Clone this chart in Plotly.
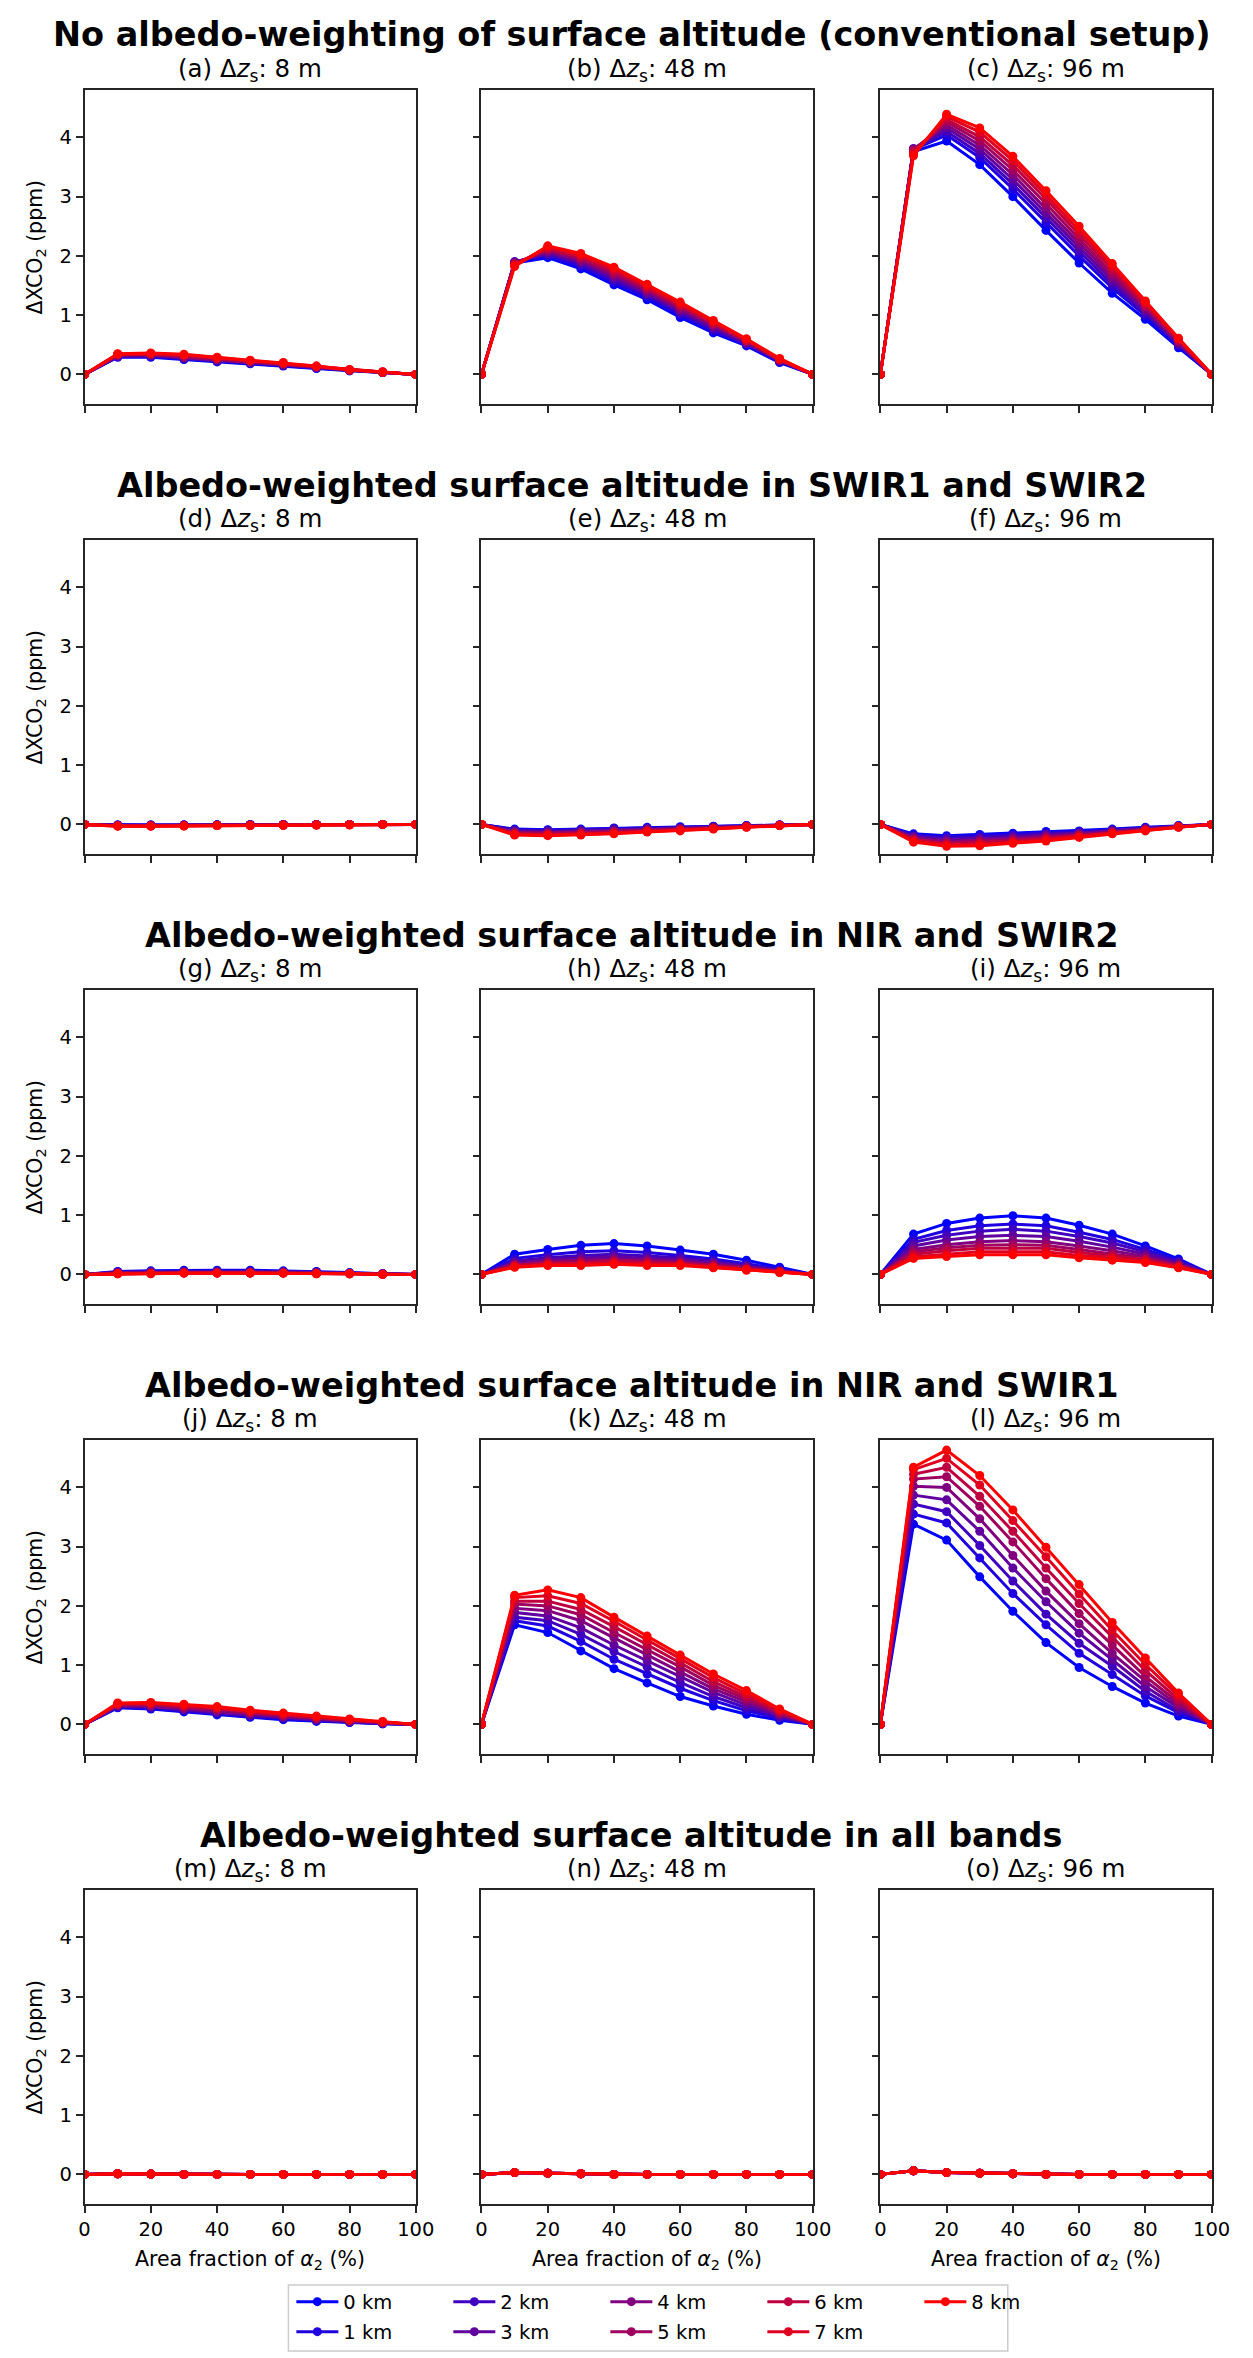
import plotly.graph_objects as go

# figure size in px, same as the reference
W, H = 1253, 2358

AREA_FRACTION = [0, 10, 20, 30, 40, 50, 60, 70, 80, 90, 100]
SURFACE_KM = [0, 1, 2, 3, 4, 5, 6, 7, 8]
SERIES_NAMES = ["0 km", "1 km", "2 km", "3 km", "4 km", "5 km", "6 km", "7 km", "8 km"]
DZ_S = [8, 48, 96]
PANEL_LETTERS = ["a", "b", "c", "d", "e", "f", "g", "h", "i", "j", "k", "l", "m", "n", "o"]
ROW_TITLES = [
    "No albedo-weighting of surface altitude (conventional setup)",
    "Albedo-weighted surface altitude in SWIR1 and SWIR2",
    "Albedo-weighted surface altitude in NIR and SWIR2",
    "Albedo-weighted surface altitude in NIR and SWIR1",
    "Albedo-weighted surface altitude in all bands",
]
X_TICKS = [0, 20, 40, 60, 80, 100]
Y_TICKS = [0, 1, 2, 3, 4]

# dXCO2 (ppm), one row per area fraction, one column per surface altitude (0..8 km)
ZERO = [0, 0, 0, 0, 0, 0, 0, 0, 0]

dxco2_a = [
    ZERO,
    [0.29, 0.30, 0.30, 0.31, 0.32, 0.33, 0.34, 0.34, 0.35],
    [0.29, 0.30, 0.31, 0.32, 0.33, 0.34, 0.35, 0.35, 0.36],
    [0.25, 0.26, 0.27, 0.28, 0.29, 0.30, 0.32, 0.33, 0.34],
    [0.21, 0.22, 0.23, 0.24, 0.25, 0.26, 0.27, 0.28, 0.29],
    [0.18, 0.19, 0.19, 0.20, 0.21, 0.22, 0.23, 0.23, 0.24],
    [0.14, 0.15, 0.15, 0.16, 0.17, 0.18, 0.18, 0.19, 0.20],
    [0.10, 0.11, 0.11, 0.12, 0.12, 0.13, 0.13, 0.14, 0.14],
    [0.06, 0.06, 0.07, 0.07, 0.07, 0.07, 0.08, 0.08, 0.08],
    [0.03, 0.03, 0.03, 0.03, 0.03, 0.04, 0.04, 0.04, 0.04],
    ZERO,
]
dxco2_b = [
    ZERO,
    [1.88, 1.90, 1.90, 1.89, 1.88, 1.87, 1.86, 1.84, 1.82],
    [1.97, 2.00, 2.03, 2.05, 2.08, 2.10, 2.12, 2.15, 2.17],
    [1.78, 1.82, 1.86, 1.89, 1.92, 1.95, 1.98, 2.01, 2.04],
    [1.51, 1.55, 1.59, 1.63, 1.67, 1.70, 1.74, 1.78, 1.81],
    [1.26, 1.30, 1.34, 1.37, 1.40, 1.43, 1.46, 1.49, 1.52],
    [0.96, 1.00, 1.04, 1.07, 1.10, 1.13, 1.16, 1.19, 1.22],
    [0.70, 0.73, 0.76, 0.79, 0.82, 0.84, 0.86, 0.89, 0.91],
    [0.48, 0.50, 0.52, 0.53, 0.55, 0.56, 0.57, 0.59, 0.60],
    [0.20, 0.21, 0.22, 0.23, 0.24, 0.24, 0.25, 0.26, 0.27],
    ZERO,
]
dxco2_c = [
    ZERO,
    [3.76, 3.80, 3.81, 3.81, 3.80, 3.78, 3.76, 3.72, 3.69],
    [3.94, 4.04, 4.10, 4.16, 4.21, 4.26, 4.30, 4.35, 4.39],
    [3.54, 3.66, 3.73, 3.80, 3.87, 3.94, 4.01, 4.09, 4.16],
    [3.00, 3.13, 3.21, 3.29, 3.37, 3.45, 3.53, 3.61, 3.68],
    [2.43, 2.56, 2.64, 2.72, 2.80, 2.88, 2.96, 3.03, 3.10],
    [1.88, 2.00, 2.08, 2.15, 2.22, 2.29, 2.36, 2.43, 2.50],
    [1.37, 1.46, 1.52, 1.58, 1.64, 1.70, 1.76, 1.82, 1.87],
    [0.93, 0.99, 1.03, 1.07, 1.11, 1.14, 1.17, 1.21, 1.24],
    [0.45, 0.48, 0.50, 0.52, 0.54, 0.56, 0.58, 0.60, 0.61],
    ZERO,
]
dxco2_d = [
    ZERO,
    [-0.010, -0.010, -0.015, -0.020, -0.020, -0.020, -0.025, -0.030, -0.030],
    [-0.010, -0.010, -0.015, -0.020, -0.020, -0.020, -0.025, -0.030, -0.030],
    [-0.010, -0.010, -0.010, -0.015, -0.020, -0.020, -0.020, -0.025, -0.030],
    [-0.005, -0.010, -0.010, -0.010, -0.015, -0.015, -0.020, -0.020, -0.020],
    [0.000, -0.005, -0.010, -0.010, -0.010, -0.015, -0.015, -0.020, -0.020],
    [0.000, 0.000, -0.005, -0.005, -0.010, -0.010, -0.010, -0.015, -0.015],
    [0.000, 0.000, 0.000, -0.005, -0.005, -0.005, -0.010, -0.010, -0.010],
    [0.000, 0.000, 0.000, 0.000, 0.000, -0.005, -0.005, -0.005, -0.010],
    [0.000, 0.000, 0.000, 0.000, 0.000, 0.000, 0.000, 0.000, -0.005],
    ZERO,
]
dxco2_e = [
    ZERO,
    [-0.08, -0.09, -0.10, -0.12, -0.13, -0.14, -0.16, -0.17, -0.18],
    [-0.09, -0.10, -0.11, -0.13, -0.14, -0.15, -0.17, -0.18, -0.19],
    [-0.08, -0.09, -0.10, -0.12, -0.13, -0.14, -0.16, -0.17, -0.18],
    [-0.06, -0.07, -0.08, -0.10, -0.11, -0.12, -0.14, -0.15, -0.16],
    [-0.05, -0.06, -0.07, -0.08, -0.09, -0.10, -0.11, -0.12, -0.13],
    [-0.04, -0.05, -0.06, -0.07, -0.075, -0.08, -0.09, -0.10, -0.11],
    [-0.03, -0.035, -0.04, -0.05, -0.055, -0.06, -0.07, -0.075, -0.08],
    [-0.02, -0.02, -0.025, -0.03, -0.035, -0.035, -0.04, -0.045, -0.05],
    [-0.01, -0.01, -0.01, -0.015, -0.015, -0.015, -0.02, -0.02, -0.02],
    ZERO,
]
dxco2_f = [
    ZERO,
    [-0.16, -0.18, -0.20, -0.21, -0.23, -0.25, -0.26, -0.28, -0.30],
    [-0.19, -0.21, -0.24, -0.26, -0.29, -0.31, -0.33, -0.35, -0.37],
    [-0.17, -0.19, -0.22, -0.24, -0.27, -0.29, -0.31, -0.34, -0.36],
    [-0.15, -0.17, -0.19, -0.22, -0.24, -0.26, -0.28, -0.30, -0.32],
    [-0.12, -0.14, -0.16, -0.18, -0.20, -0.22, -0.24, -0.26, -0.28],
    [-0.11, -0.12, -0.14, -0.15, -0.17, -0.18, -0.19, -0.21, -0.22],
    [-0.08, -0.09, -0.10, -0.11, -0.12, -0.13, -0.14, -0.15, -0.16],
    [-0.05, -0.06, -0.07, -0.075, -0.08, -0.09, -0.095, -0.10, -0.11],
    [-0.02, -0.025, -0.03, -0.03, -0.035, -0.04, -0.04, -0.045, -0.05],
    ZERO,
]
dxco2_g = [
    ZERO,
    [0.05, 0.04, 0.035, 0.03, 0.025, 0.02, 0.015, 0.01, 0.01],
    [0.06, 0.05, 0.04, 0.035, 0.03, 0.025, 0.02, 0.015, 0.01],
    [0.07, 0.06, 0.05, 0.04, 0.035, 0.03, 0.025, 0.02, 0.02],
    [0.07, 0.06, 0.05, 0.04, 0.035, 0.03, 0.025, 0.02, 0.02],
    [0.07, 0.06, 0.05, 0.04, 0.035, 0.03, 0.025, 0.02, 0.02],
    [0.06, 0.05, 0.045, 0.04, 0.03, 0.025, 0.02, 0.02, 0.02],
    [0.05, 0.04, 0.035, 0.03, 0.025, 0.02, 0.015, 0.01, 0.01],
    [0.03, 0.025, 0.02, 0.02, 0.015, 0.01, 0.01, 0.01, 0.01],
    [0.01, 0.01, 0.01, 0.005, 0.005, 0.005, 0.0, 0.0, 0.0],
    ZERO,
]
dxco2_h = [
    ZERO,
    [0.34, 0.27, 0.23, 0.20, 0.18, 0.16, 0.15, 0.13, 0.12],
    [0.42, 0.33, 0.28, 0.25, 0.22, 0.20, 0.18, 0.17, 0.15],
    [0.49, 0.38, 0.32, 0.28, 0.24, 0.22, 0.19, 0.17, 0.15],
    [0.52, 0.40, 0.34, 0.30, 0.26, 0.24, 0.22, 0.19, 0.17],
    [0.48, 0.37, 0.31, 0.27, 0.24, 0.22, 0.19, 0.17, 0.15],
    [0.41, 0.32, 0.28, 0.25, 0.22, 0.20, 0.18, 0.17, 0.15],
    [0.34, 0.26, 0.22, 0.20, 0.17, 0.16, 0.14, 0.12, 0.11],
    [0.24, 0.18, 0.15, 0.13, 0.12, 0.10, 0.09, 0.08, 0.07],
    [0.12, 0.09, 0.07, 0.06, 0.05, 0.05, 0.04, 0.04, 0.03],
    ZERO,
]
dxco2_i = [
    ZERO,
    [0.68, 0.59, 0.54, 0.48, 0.42, 0.38, 0.34, 0.30, 0.27],
    [0.86, 0.74, 0.66, 0.58, 0.50, 0.45, 0.40, 0.34, 0.30],
    [0.95, 0.82, 0.73, 0.64, 0.55, 0.49, 0.44, 0.38, 0.33],
    [0.99, 0.85, 0.76, 0.66, 0.57, 0.50, 0.44, 0.38, 0.33],
    [0.95, 0.82, 0.73, 0.64, 0.55, 0.49, 0.44, 0.38, 0.33],
    [0.83, 0.71, 0.64, 0.56, 0.48, 0.42, 0.37, 0.32, 0.28],
    [0.68, 0.59, 0.53, 0.46, 0.40, 0.35, 0.31, 0.28, 0.24],
    [0.48, 0.42, 0.38, 0.34, 0.30, 0.27, 0.25, 0.22, 0.20],
    [0.26, 0.23, 0.21, 0.19, 0.16, 0.15, 0.14, 0.12, 0.11],
    ZERO,
]
dxco2_j = [
    ZERO,
    [0.28, 0.29, 0.30, 0.31, 0.32, 0.33, 0.34, 0.35, 0.36],
    [0.26, 0.27, 0.29, 0.30, 0.31, 0.33, 0.34, 0.36, 0.37],
    [0.21, 0.23, 0.24, 0.26, 0.27, 0.29, 0.31, 0.32, 0.34],
    [0.16, 0.18, 0.20, 0.21, 0.23, 0.25, 0.27, 0.28, 0.30],
    [0.12, 0.13, 0.15, 0.16, 0.18, 0.19, 0.21, 0.22, 0.24],
    [0.08, 0.09, 0.11, 0.12, 0.13, 0.15, 0.16, 0.18, 0.19],
    [0.05, 0.06, 0.07, 0.08, 0.09, 0.10, 0.12, 0.13, 0.14],
    [0.03, 0.04, 0.04, 0.05, 0.06, 0.07, 0.07, 0.08, 0.09],
    [0.01, 0.01, 0.02, 0.02, 0.03, 0.03, 0.04, 0.04, 0.05],
    ZERO,
]
dxco2_k = [
    ZERO,
    [1.68, 1.75, 1.81, 1.89, 1.96, 2.03, 2.08, 2.14, 2.18],
    [1.55, 1.66, 1.75, 1.83, 1.92, 2.00, 2.08, 2.17, 2.27],
    [1.24, 1.40, 1.52, 1.63, 1.75, 1.85, 1.94, 2.04, 2.14],
    [0.94, 1.10, 1.23, 1.34, 1.46, 1.55, 1.65, 1.74, 1.81],
    [0.70, 0.85, 0.97, 1.07, 1.17, 1.26, 1.35, 1.43, 1.49],
    [0.47, 0.61, 0.71, 0.80, 0.89, 0.97, 1.04, 1.11, 1.17],
    [0.31, 0.40, 0.47, 0.54, 0.60, 0.66, 0.72, 0.79, 0.85],
    [0.17, 0.23, 0.28, 0.33, 0.38, 0.42, 0.47, 0.52, 0.57],
    [0.07, 0.10, 0.12, 0.15, 0.17, 0.19, 0.21, 0.24, 0.26],
    ZERO,
]
dxco2_l = [
    ZERO,
    [3.38, 3.55, 3.72, 3.87, 4.02, 4.14, 4.22, 4.30, 4.34],
    [3.11, 3.40, 3.59, 3.79, 4.00, 4.18, 4.34, 4.49, 4.63],
    [2.49, 2.81, 3.02, 3.26, 3.47, 3.68, 3.85, 4.04, 4.20],
    [1.91, 2.21, 2.42, 2.64, 2.85, 3.08, 3.26, 3.44, 3.62],
    [1.38, 1.68, 1.86, 2.07, 2.25, 2.46, 2.64, 2.83, 2.99],
    [0.96, 1.20, 1.37, 1.54, 1.70, 1.87, 2.04, 2.20, 2.36],
    [0.64, 0.84, 0.98, 1.09, 1.20, 1.34, 1.47, 1.59, 1.72],
    [0.36, 0.48, 0.56, 0.64, 0.73, 0.81, 0.91, 1.01, 1.12],
    [0.14, 0.20, 0.23, 0.28, 0.32, 0.37, 0.42, 0.48, 0.53],
    ZERO,
]
dxco2_m = [
    ZERO,
    [0.01, 0.01, 0.01, 0.01, 0.01, 0.01, 0.01, 0.01, 0.01],
    [0.005, 0.005, 0.005, 0.005, 0.005, 0.005, 0.005, 0.005, 0.005],
    ZERO, ZERO, ZERO, ZERO, ZERO, ZERO, ZERO,
    ZERO,
]
dxco2_n = [
    ZERO,
    [0.03, 0.03, 0.03, 0.03, 0.03, 0.03, 0.03, 0.03, 0.03],
    [0.02, 0.02, 0.02, 0.02, 0.02, 0.02, 0.02, 0.02, 0.02],
    [0.01, 0.01, 0.01, 0.01, 0.01, 0.01, 0.01, 0.01, 0.01],
    ZERO, ZERO, ZERO, ZERO, ZERO, ZERO,
    ZERO,
]
dxco2_o = [
    ZERO,
    [0.06, 0.06, 0.06, 0.06, 0.06, 0.06, 0.06, 0.06, 0.06],
    [0.03, 0.03, 0.03, 0.03, 0.03, 0.03, 0.03, 0.03, 0.03],
    [0.02, 0.02, 0.02, 0.02, 0.02, 0.02, 0.02, 0.02, 0.02],
    [0.01, 0.01, 0.01, 0.01, 0.01, 0.01, 0.01, 0.01, 0.01],
    ZERO, ZERO, ZERO, ZERO, ZERO,
    ZERO,
]

PANELS = [
    [dxco2_a, dxco2_b, dxco2_c],
    [dxco2_d, dxco2_e, dxco2_f],
    [dxco2_g, dxco2_h, dxco2_i],
    [dxco2_j, dxco2_k, dxco2_l],
    [dxco2_m, dxco2_n, dxco2_o],
]

COL_X = [(72, 410), (477, 815), (884, 1222)]
ROW_TOP0, ROW_PITCH, ROW_H = 82, 450, 314
FONT = "DejaVu Sans"
AXIS_COLOR = "#262626"
TICK_SIZE = 19.5
LABEL_SIZE = 20.5


def px_x(p):
    return p / W


def px_y(p):
    return 1 - p / H


def km_color(k):
    f = k / 8
    return f"rgb({round(255 * f)},0,{round(255 * (1 - f))})"


fig = go.Figure()
annotations = []

for r in range(5):
    top = ROW_TOP0 + r * ROW_PITCH
    bottom = top + ROW_H
    annotations.append(dict(text=f"<b>{ROW_TITLES[r]}</b>", x=0.503, y=px_y(top - 55),
                            xref="paper", yref="paper", xanchor="center", yanchor="middle",
                            showarrow=False, font=dict(size=33.5, color="black")))
    for c in range(3):
        idx = r * 3 + c + 1
        sfx = "" if idx == 1 else str(idx)
        x0, x1 = COL_X[c]

        fig.layout[f"xaxis{sfx}"] = dict(
            domain=[px_x(x0), px_x(x1)], anchor=f"y{sfx}", range=[0, 100],
            tickvals=X_TICKS, showticklabels=(r == 4),
            showline=True, linecolor=AXIS_COLOR, linewidth=1.5, mirror=True,
            ticks="outside", ticklen=7, tickwidth=1.5, tickcolor=AXIS_COLOR,
            showgrid=False, zeroline=False, tickfont=dict(size=TICK_SIZE, color="black"))
        fig.layout[f"yaxis{sfx}"] = dict(
            domain=[px_y(bottom), px_y(top)], anchor=f"x{sfx}", range=[-0.5, 4.8],
            tickvals=Y_TICKS, showticklabels=(c == 0),
            showline=True, linecolor=AXIS_COLOR, linewidth=1.5, mirror=True,
            ticks="outside", ticklen=7, tickwidth=1.5, tickcolor=AXIS_COLOR,
            showgrid=False, zeroline=False, tickfont=dict(size=TICK_SIZE, color="black"))

        panel = PANELS[r][c]
        for k in SURFACE_KM:
            fig.add_trace(go.Scatter(
                x=AREA_FRACTION, y=[row[k] for row in panel],
                mode="lines+markers", name=SERIES_NAMES[k],
                line=dict(color=km_color(k), width=3),
                marker=dict(color=km_color(k), size=9),
                xaxis=f"x{sfx}", yaxis=f"y{sfx}",
                showlegend=(idx == 1),
                legend="legend" if k % 2 == 0 else "legend2"))

        letter = PANEL_LETTERS[idx - 1]
        annotations.append(dict(text=f"({letter}) Δ<i>z</i><sub>s</sub>: {DZ_S[c]} m",
                                x=px_x((x0 + x1) / 2), y=px_y(top), xref="paper", yref="paper",
                                xanchor="center", yanchor="bottom", yshift=2, showarrow=False,
                                font=dict(size=24.5, color="black")))
        if c == 0:
            annotations.append(dict(text="ΔXCO<sub>2</sub> (ppm)", textangle=-90,
                                    x=px_x(22), y=px_y((top + bottom) / 2), xref="paper", yref="paper",
                                    xanchor="center", yanchor="middle", showarrow=False,
                                    font=dict(size=LABEL_SIZE, color="black")))
        if r == 4:
            annotations.append(dict(text="Area fraction of <i>α</i><sub>2</sub> (%)",
                                    x=px_x((x0 + x1) / 2), y=px_y(2252), xref="paper", yref="paper",
                                    xanchor="center", yanchor="middle", showarrow=False,
                                    font=dict(size=LABEL_SIZE, color="black")))

legend_common = dict(orientation="h", xanchor="left", yanchor="middle", itemwidth=42,
                     entrywidth=100, entrywidthmode="pixels", bgcolor="rgba(0,0,0,0)",
                     borderwidth=0, font=dict(size=TICK_SIZE, color="black"), tracegroupgap=0)

fig.update_layout(
    width=W, height=H,
    margin=dict(l=0, r=0, t=0, b=0),
    paper_bgcolor="white", plot_bgcolor="white",
    font=dict(family=FONT, color="black"),
    annotations=annotations,
    legend=dict(x=px_x(283), y=px_y(2294), **legend_common),
    legend2=dict(x=px_x(283), y=px_y(2324), **legend_common),
    shapes=[dict(type="rect", xref="paper", yref="paper",
                 x0=px_x(280), x1=px_x(1014), y0=px_y(2343), y1=px_y(2277),
                 line=dict(color="#cccccc", width=1.5))],
)

fig.write_html("out.html")
